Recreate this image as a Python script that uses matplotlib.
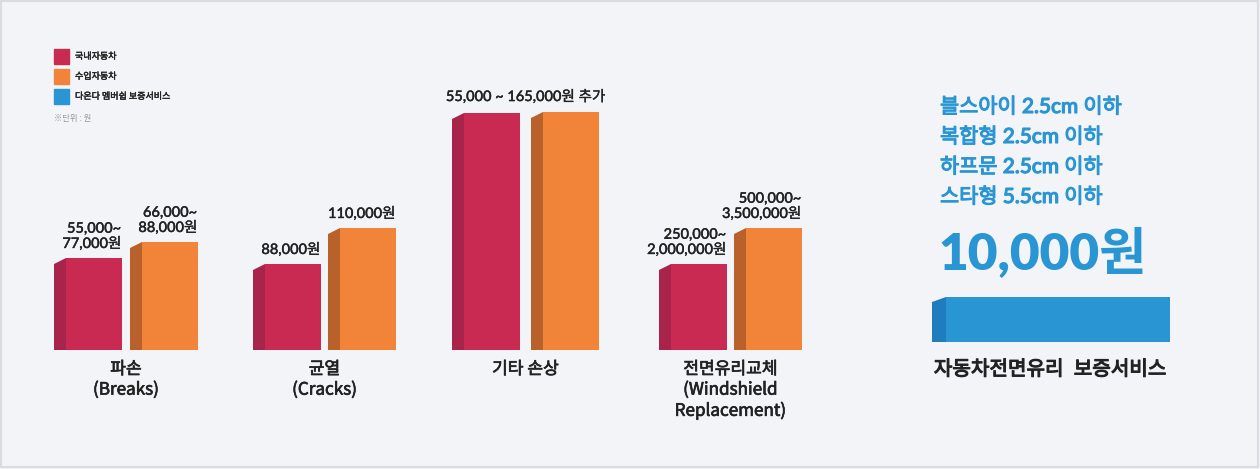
import numpy as np
import matplotlib.pyplot as plt
import matplotlib.patheffects as pe
from matplotlib.patches import Rectangle

plt.rcParams['font.family'] = ['Lato', 'Noto Sans CJK KR', 'DejaVu Sans']
KR = ['Noto Sans CJK KR', 'DejaVu Sans']

# data (bar heights in px, not to scale with prices)
categories = ['파손\n(Breaks)', '균열\n(Cracks)', '기타 손상',
              '전면유리교체\n(Windshield\nReplacement)']
domestic_h = [92, 86, 237, 86]
import_h = [108, 122, 238, 122]
domestic_lbl = ['55,000~\n77,000원', '88,000원', '', '250,000~\n2,000,000원']
import_lbl = ['66,000~\n88,000원', '110,000원', '', '500,000~\n3,500,000원']
other_lbl = '55,000 ~ 165,000원 추가'
legend_lbl = ['국내자동차', '수입자동차', '다온다 멤버쉽 보증서비스']
service_lines = ['블스아이 2.5cm 이하', '복합형 2.5cm 이하',
                 '하프문 2.5cm 이하', '스타형 5.5cm 이하']
service_price = '10,000원'
service_name = '자동차전면유리  보증서비스'
service_len = 224

# colours
red, red_side = '#c82a52', '#a9244a'
orange, orange_side = '#f2843a', '#b8612b'
blue, blue_side = '#2a95d3', '#1f7cbd'
txt = '#222222'


def thick(col, lw=0.6):
    # slightly heavier strokes, like the medium web font
    return [pe.withStroke(linewidth=lw, foreground=col)]


fig = plt.figure(figsize=(12.6, 4.69), dpi=100)
fig.patch.set_facecolor('#f3f4f7')
ax = fig.add_axes([0, 0, 1, 1])
ax.set_xlim(0, 1260)
ax.set_ylim(469, 0)
ax.axis('off')
ax.add_patch(Rectangle((1, 1), 1257, 466, fill=False, ec='#d8dbe0', lw=1.5))

base = 350
dom_x = np.array([66, 265, 464, 671])
imp_x = np.array([142, 340, 543, 746])
w = 56
side = 12


def bars3d(xs, hs, col, scol):
    ax.bar(xs, -np.array(hs), bottom=base, width=w, align='edge', color=col)
    for x, h in zip(xs, hs):
        top = base - h
        ax.fill([x - side, x - side, x, x], [base, top + 6, top, base],
                color=scol, lw=0)


bars3d(dom_x, domestic_h, red, red_side)
bars3d(imp_x, import_h, orange, orange_side)

for xs, hs, labels in [(dom_x, domestic_h, domestic_lbl),
                       (imp_x, import_h, import_lbl)]:
    for x, h, s in zip(xs, hs, labels):
        if s:
            ax.text(x + w - 1, base - h - 7, s, ha='right', va='bottom',
                    multialignment='right', fontsize=10.5, color=txt,
                    fontweight='medium', linespacing=1.1,
                    path_effects=thick(txt, 0.25))
ax.text((dom_x[2] - side + imp_x[2] + w) / 2, 97, other_lbl, ha='center',
        va='center', fontsize=10.5, color=txt, fontweight='medium',
        path_effects=thick(txt, 0.25))

for i, c in enumerate(categories):
    cx = (dom_x[i] - side + imp_x[i] + w) / 2
    ax.text(cx, 360, c, ha='center', va='top', fontsize=12.3, color=txt,
            family=KR, linespacing=1.17, path_effects=thick(txt, 0.5))

# legend
for i, (c, l) in enumerate(zip([red, orange, blue], legend_lbl)):
    ax.add_patch(Rectangle((54, 49 + 20 * i), 15, 15, color=c))
    ax.text(75, 56.5 + 20 * i, l, va='center', fontsize=6.5, color=txt,
            family=KR, path_effects=thick(txt, 0.3))
ax.text(54, 118, '※단위 : 원', va='center', fontsize=6, color='#9a9a9a',
        family=KR)

# right panel
for i, s in enumerate(service_lines):
    ax.text(940, 107 + 30 * i, s, va='center', fontsize=15, color=blue,
            fontweight='medium', path_effects=thick(blue, 0.8))
ax.text(938, 253, service_price, va='center', fontsize=37, color=blue,
        fontweight='heavy')
ax.barh(319.5, service_len, left=946, height=45, color=blue)
ax.fill([932, 932, 946, 946], [342, 302, 297, 342], color=blue_side, lw=0)
ax.text(1050, 369, service_name, ha='center', va='center', fontsize=14.5,
        color=txt, fontweight='medium', path_effects=thick(txt, 0.8))

fig.savefig('out.png', dpi=100, facecolor=fig.get_facecolor())
